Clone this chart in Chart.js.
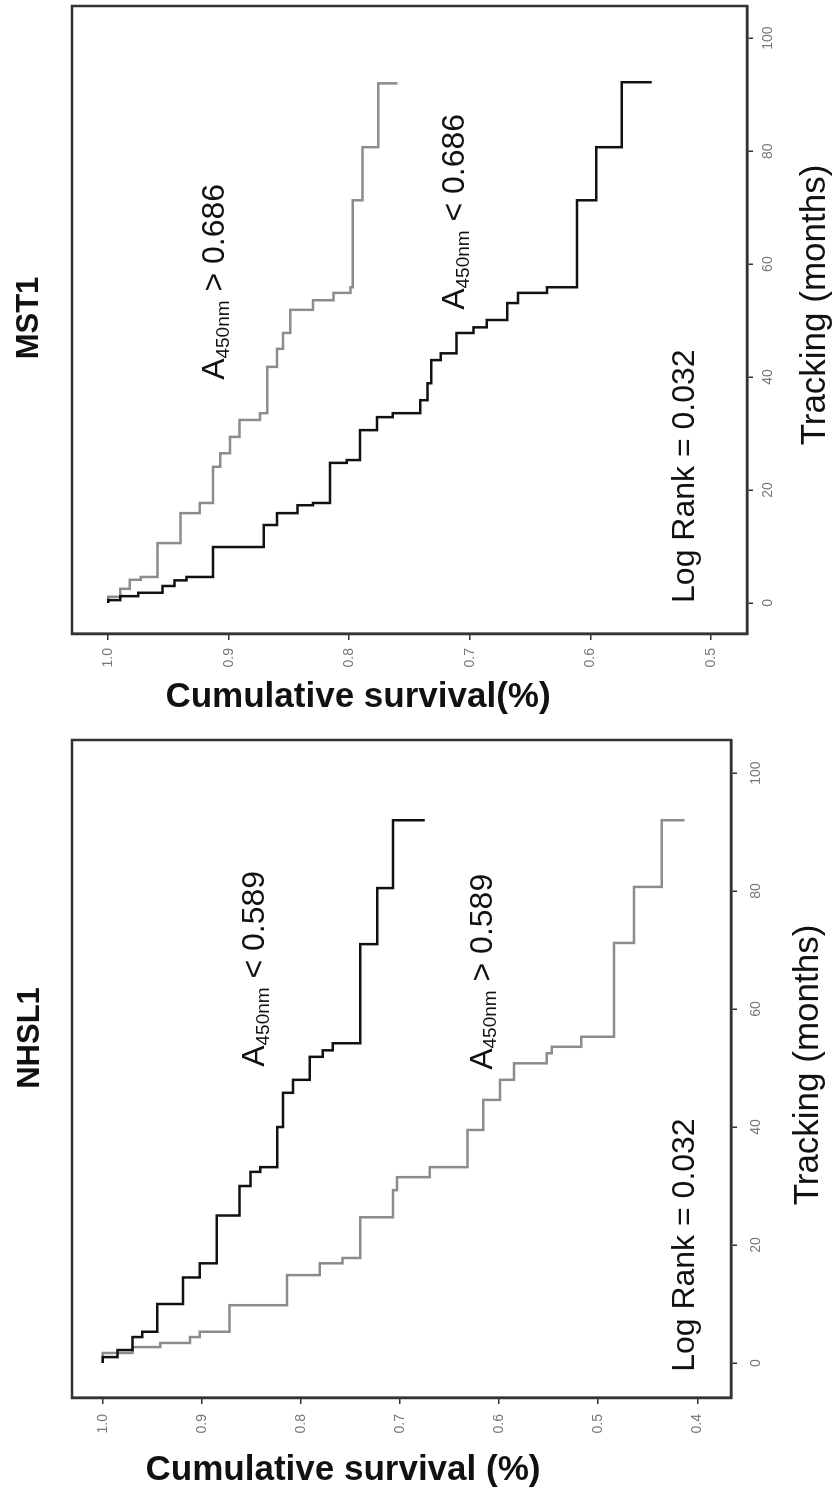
<!DOCTYPE html>
<html>
<head>
<meta charset="utf-8">
<script src="https://cdn.jsdelivr.net/npm/chart.js@4.4.1/dist/chart.umd.min.js"></script>
<style>
  html, body { margin: 0; padding: 0; background: #fff; }
  body { width: 834px; height: 1492px; position: relative; overflow: hidden; }
  /* each panel is drawn upright, then turned a quarter turn like the scanned figure */
  .panel { position: absolute; left: 0; transform-origin: 0 0; transform: rotate(-90deg); }
</style>
</head>
<body>
<div class="panel" style="top:740px;width:740px;height:834px"><canvas id="mst1" width="740" height="834"></canvas></div>
<div class="panel" style="top:1492px;width:757px;height:834px"><canvas id="nhsl1" width="757" height="834"></canvas></div>
<script>
// tick labels
const monthTicks = [0, 20, 40, 60, 80, 100];
const mstSurvTicks = [1.0, 0.9, 0.8, 0.7, 0.6, 0.5];
const nhslSurvTicks = [1.0, 0.9, 0.8, 0.7, 0.6, 0.5, 0.4];

// MST1, A450nm < 0.686
const mstLowMonths = [0, 0.5, 1.2, 1.8, 3.0, 4.0, 4.6, 9.9, 13.8, 15.9, 17.3, 17.7, 24.8, 25.3, 30.6, 32.9, 33.6, 35.9, 38.9, 43.0, 44.2, 47.8, 48.8, 50.1, 53.1, 54.9, 55.9, 71.3, 80.7, 92.2];
const mstLowSurv   = [1.0, 0.99, 0.975, 0.955, 0.945, 0.935, 0.913, 0.871, 0.860, 0.843, 0.830, 0.816, 0.802, 0.791, 0.777, 0.764, 0.741, 0.735, 0.732, 0.724, 0.711, 0.697, 0.686, 0.669, 0.660, 0.636, 0.611, 0.595, 0.574, 0.549];

// MST1, A450nm > 0.686
const mstHighMonths = [0, 1.1, 2.5, 4.1, 4.6, 10.6, 15.9, 17.7, 24.1, 26.5, 29.4, 32.4, 33.6, 41.8, 45.0, 47.8, 51.9, 53.6, 54.9, 55.9, 71.3, 80.7, 92.0];
const mstHighSurv   = [1.0, 0.990, 0.982, 0.973, 0.959, 0.940, 0.924, 0.913, 0.907, 0.899, 0.891, 0.874, 0.868, 0.860, 0.855, 0.849, 0.830, 0.813, 0.799, 0.797, 0.789, 0.776, 0.760];

// NHSL1, A450nm < 0.589
const nhslLowMonths = [0, 1.0, 2.2, 4.4, 5.3, 10.0, 14.5, 16.9, 25.0, 30.0, 32.4, 33.2, 40.0, 45.8, 48.0, 51.9, 53.0, 54.2, 71.0, 80.5, 92.0];
const nhslLowSurv   = [1.0, 0.985, 0.970, 0.960, 0.945, 0.919, 0.902, 0.885, 0.862, 0.851, 0.841, 0.824, 0.818, 0.808, 0.791, 0.778, 0.768, 0.740, 0.723, 0.707, 0.675];

// NHSL1, A450nm > 0.589
const nhslHighMonths = [0, 1.7, 2.7, 3.4, 4.4, 5.3, 9.8, 14.9, 16.9, 17.8, 24.7, 29.3, 31.5, 33.2, 39.5, 44.6, 48.0, 50.8, 52.5, 53.6, 55.3, 71.2, 80.7, 92.0];
const nhslHighSurv   = [1.0, 0.970, 0.942, 0.912, 0.902, 0.872, 0.814, 0.781, 0.758, 0.740, 0.707, 0.703, 0.670, 0.632, 0.616, 0.599, 0.585, 0.552, 0.547, 0.517, 0.484, 0.464, 0.436, 0.413];

const FONT = '"Liberation Sans", Arial, sans-serif';

function toPoints(months, surv) {
    return months.map(function(m, i) { return {x: m, y: surv[i]}; });
}

// box round the plot and the free texts of each panel
const panelText = {
    id: 'panelText',
    beforeDatasetsDraw(chart) {
        const a = chart.chartArea, ctx = chart.ctx;
        ctx.save();
        ctx.strokeStyle = '#333';
        ctx.lineWidth = 2.5;
        ctx.strokeRect(a.left, a.top, a.right - a.left, a.bottom - a.top);
        ctx.restore();
    },
    afterDraw(chart, args, o) {
        const ctx = chart.ctx, sx = chart.scales.x, sy = chart.scales.y;
        ctx.save();
        ctx.fillStyle = '#111';
        ctx.textAlign = 'center';
        ctx.textBaseline = 'middle';

        ctx.font = 'bold 31px ' + FONT;
        ctx.fillText(o.title, o.titleAt[0], o.titleAt[1]);

        ctx.font = '35px ' + FONT;
        ctx.fillText('Tracking (months)', o.xTitleAt[0], o.xTitleAt[1]);

        ctx.save();
        ctx.translate(o.yTitleAt[0], o.yTitleAt[1]);
        ctx.rotate(Math.PI / 2);
        ctx.font = 'bold 35px ' + FONT;
        ctx.fillText(o.yTitle, 0, 0);
        ctx.restore();

        ctx.textAlign = 'left';
        o.labels.forEach(function(l) {
            let px = sx.getPixelForValue(l.at[0]);
            const py = sy.getPixelForValue(l.at[1]);
            ctx.font = '32px ' + FONT;
            ctx.fillText('A', px, py);
            px += ctx.measureText('A').width;
            ctx.font = '19px ' + FONT;
            ctx.fillText(l.sub, px, py + 8);
            px += ctx.measureText(l.sub).width;
            ctx.font = '32px ' + FONT;
            ctx.fillText(l.rest, px, py);
        });

        ctx.font = '32px ' + FONT;
        ctx.fillText('Log Rank = 0.032', sx.getPixelForValue(o.logRankAt[0]), sy.getPixelForValue(o.logRankAt[1]));
        ctx.restore();
    }
};

function makePanel(id, p) {
    return new Chart(document.getElementById(id), {
        type: 'line',
        data: {
            datasets: [
                {
                    label: p.lowLabel,
                    data: toPoints(p.lowMonths, p.lowSurv),
                    borderColor: '#111',
                    borderWidth: 2.5,
                    stepped: 'before',
                    pointRadius: 0
                },
                {
                    label: p.highLabel,
                    data: toPoints(p.highMonths, p.highSurv),
                    borderColor: '#8c8c8c',
                    borderWidth: 2.5,
                    stepped: 'before',
                    pointRadius: 0
                }
            ]
        },
        options: {
            responsive: false,
            animation: false,
            devicePixelRatio: 1,
            layout: { padding: { left: 0, top: 72, right: p.padRight, bottom: 0 } },
            plugins: {
                legend: { display: false },
                tooltip: { enabled: false },
                panelText: p.text
            },
            scales: {
                x: {
                    type: 'linear',
                    position: 'bottom',
                    min: p.xMin,
                    max: p.xMax,
                    afterBuildTicks: function(s) { s.ticks = monthTicks.map(function(v) { return {value: v}; }); },
                    afterFit: function(s) { s.height = p.xAxisH; },
                    grid: { drawOnChartArea: false, tickLength: 6, color: '#333', lineWidth: 1.5 },
                    border: { color: '#333', width: 2.5 },
                    ticks: {
                        font: { family: FONT, size: 14 }, color: '#777', padding: p.xPad,
                        maxRotation: 0, autoSkip: false,
                        callback: function(v) { return String(v); }
                    }
                },
                y: {
                    type: 'linear',
                    position: 'left',
                    min: p.yMin,
                    max: p.yMax,
                    afterBuildTicks: function(s) { s.ticks = p.survTicks.map(function(v) { return {value: v}; }); },
                    afterFit: function(s) { s.width = p.yAxisW; },
                    grid: { drawOnChartArea: false, tickLength: 6, color: '#333', lineWidth: 1.5 },
                    border: { color: '#333', width: 2.5 },
                    ticks: {
                        font: { family: FONT, size: 14 }, color: '#777', padding: p.yPad,
                        autoSkip: false,
                        callback: function(v) { return v.toFixed(1); }
                    }
                }
            }
        },
        plugins: [panelText]
    });
}

makePanel('mst1', {
    lowLabel: 'A450nm < 0.686', highLabel: 'A450nm > 0.686',
    lowMonths: mstLowMonths, lowSurv: mstLowSurv,
    highMonths: mstHighMonths, highSurv: mstHighSurv,
    survTicks: mstSurvTicks,
    xMin: -5.5, xMax: 105.7, yMin: 0.470, yMax: 1.030,
    padRight: 6, xAxisH: 87, yAxisW: 106, xPad: 7, yPad: 8,
    text: {
        title: 'MST1', titleAt: [422, 29],
        xTitleAt: [435, 815],
        yTitle: 'Cumulative survival(%)', yTitleAt: [43, 358],
        labels: [
            { sub: '450nm', rest: ' > 0.686', at: [39.5, 0.911] },
            { sub: '450nm', rest: ' < 0.686', at: [51.9, 0.712] }
        ],
        logRankAt: [0, 0.521]
    }
});

makePanel('nhsl1', {
    lowLabel: 'A450nm < 0.589', highLabel: 'A450nm > 0.589',
    lowMonths: nhslLowMonths, lowSurv: nhslLowSurv,
    highMonths: nhslHighMonths, highSurv: nhslHighSurv,
    survTicks: nhslSurvTicks,
    xMin: -5.93, xMax: 105.6, yMin: 0.366, yMax: 1.031,
    padRight: 5, xAxisH: 103, yAxisW: 94, xPad: 11, yPad: 10,
    text: {
        title: 'NHSL1', titleAt: [454, 30],
        xTitleAt: [427, 808],
        yTitle: 'Cumulative survival (%)', yTitleAt: [22, 343],
        labels: [
            { sub: '450nm', rest: ' < 0.589', at: [50.2, 0.846] },
            { sub: '450nm', rest: ' > 0.589', at: [49.7, 0.616] }
        ],
        logRankAt: [-1.5, 0.412]
    }
});
</script>
</body>
</html>
